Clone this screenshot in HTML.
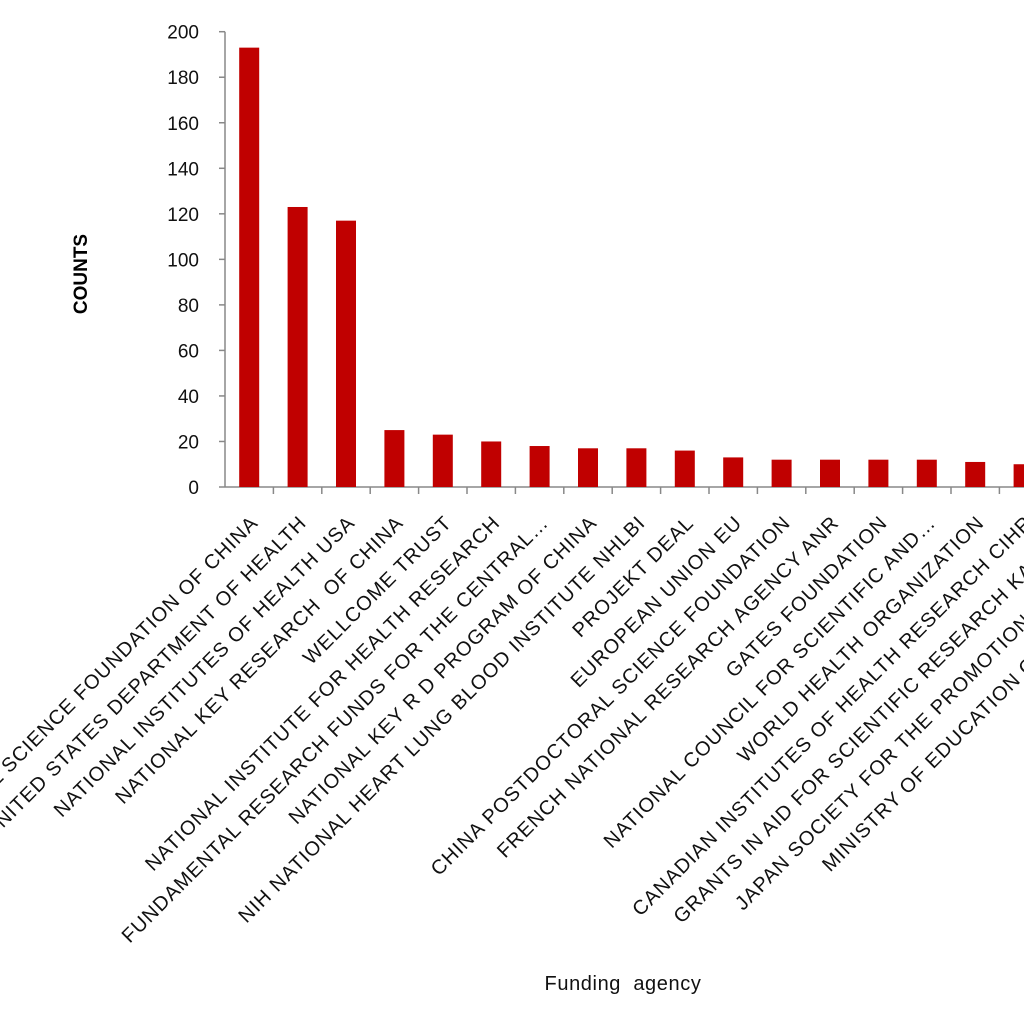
<!DOCTYPE html>
<html><head><meta charset="utf-8"><style>
html,body{margin:0;padding:0;background:#fff;width:1024px;height:1024px;overflow:hidden}
svg{display:block;font-family:"Liberation Sans",sans-serif}
text{white-space:pre}
</style></head><body>
<svg id="chart" width="1024" height="1024">
<g id="axes"></g><g id="bars"></g><g id="xlabels"></g>
<text x="87" y="274" transform="rotate(-90 87 274)" text-anchor="middle" font-size="19" font-weight="bold" fill="#000">COUNTS</text>
<text x="623" y="990" text-anchor="middle" font-size="20" letter-spacing="0.6" fill="#111">Funding  agency</text>
</svg>
<script>
const categories=["NATIONAL NATURAL SCIENCE FOUNDATION OF CHINA","UNITED STATES DEPARTMENT OF HEALTH","NATIONAL INSTITUTES OF HEALTH USA","NATIONAL KEY RESEARCH  OF CHINA","WELLCOME TRUST","NATIONAL INSTITUTE FOR HEALTH RESEARCH","FUNDAMENTAL RESEARCH FUNDS FOR THE CENTRAL…","NATIONAL KEY R D PROGRAM OF CHINA","NIH NATIONAL HEART LUNG BLOOD INSTITUTE NHLBI","PROJEKT DEAL","EUROPEAN UNION EU","CHINA POSTDOCTORAL SCIENCE FOUNDATION","FRENCH NATIONAL RESEARCH AGENCY ANR","GATES FOUNDATION","NATIONAL COUNCIL FOR SCIENTIFIC AND…","WORLD HEALTH ORGANIZATION","CANADIAN INSTITUTES OF HEALTH RESEARCH CIHR","GRANTS IN AID FOR SCIENTIFIC RESEARCH KAKENHI","JAPAN SOCIETY FOR THE PROMOTION OF SCIENCE","MINISTRY OF EDUCATION CULTURE SPORTS…"];
const counts=[193,123,117,25,23,20,18,17,17,16,13,12,12,12,12,11,10,9,9,8];
const yTicks=[0,20,40,60,80,100,120,140,160,180,200];
const NS="http://www.w3.org/2000/svg";
const x0=225,step=48.4,y0=487,yTop=31.7,yMax=200,bw=20;
function yS(v){return y0-(v/yMax)*(y0-yTop);}
function xC(i){return x0+step*(i+0.5);}
function mk(tag,attrs,parent){const e=document.createElementNS(NS,tag);for(const k in attrs)e.setAttribute(k,attrs[k]);parent.appendChild(e);return e;}
const axes=document.getElementById('axes'),bars=document.getElementById('bars'),xl=document.getElementById('xlabels');
let l=mk('line',{x1:x0,y1:yTop,x2:x0,y2:y0,stroke:'#888','stroke-width':1.5},axes);


l=mk('line',{x1:x0,y1:y0,x2:1024,y2:y0,stroke:'#888','stroke-width':1.5},axes);


yTicks.forEach(v=>{const y=yS(v);
 const t=mk('line',{x1:x0-6,y1:y,x2:x0,y2:y,stroke:'#888','stroke-width':1.5},axes);
 
 
 const tx=mk('text',{x:199,y:y+7,'text-anchor':'end','font-size':19,fill:'#111'},axes);
 tx.textContent=v;
 
 
});
categories.forEach((c,i)=>{
 const xt=x0+step*(i+1);
 const t=mk('line',{x1:xt,y1:y0,x2:xt,y2:y0+7,stroke:'#888','stroke-width':1.5},axes);
 
 
 const cx=xC(i),v=counts[i];
 const r=mk('rect',{x:cx-bw/2,y:yS(v),width:bw,height:y0-yS(v),fill:'#c00000'},bars);
 
 
 const ax=cx+10,ay=524;
 const tx=mk('text',{x:ax,y:ay,'text-anchor':'end','font-size':20,'letter-spacing':1,fill:'#111',transform:`rotate(-45 ${ax} ${ay})`},xl);
 tx.textContent=c;
 
 
});
</script>
</body></html>
